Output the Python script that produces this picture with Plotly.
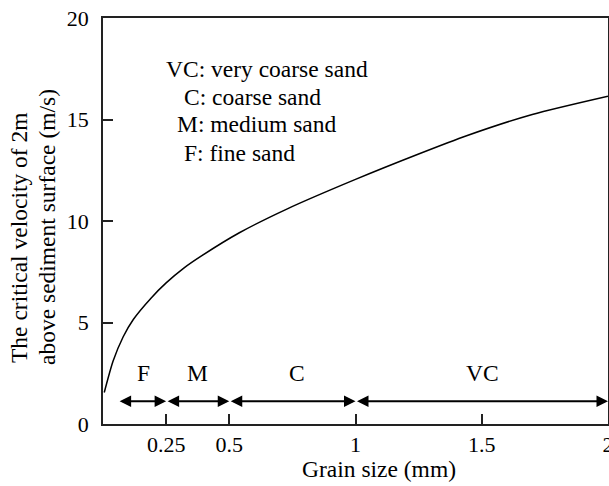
import plotly.graph_objects as go

# Curve
grain_size = [0.005, 0.04, 0.08, 0.12, 0.19, 0.25, 0.32, 0.39, 0.54, 0.73, 1.0, 1.25, 1.44, 1.7, 2.0]
velocity = [1.55, 3.1, 4.3, 5.15, 6.2, 6.95, 7.68, 8.28, 9.42, 10.6, 12.05, 13.3, 14.2, 15.25, 16.15]

# Size classes (arrows along the bottom)
class_labels = ["F", "M", "C", "VC"]
class_start = [0.06, 0.25, 0.5, 1.0]
class_end = [0.25, 0.5, 1.0, 2.0]
class_label_x = [0.16, 0.373, 0.768, 1.503]
arrow_y = 1.12
label_y = 2.5

# Legend text lines
legend_lines = ["VC: very coarse sand", "C: coarse sand", "M: medium sand", "F: fine sand"]
legend_x = [0.241, 0.312, 0.286, 0.312]
legend_y = [17.5, 16.1, 14.78, 13.37]

x_ticks = [0.25, 0.5, 1, 1.5, 2]
x_ticktext = ["0.25", "0.5", "1", "1.5", "2"]
y_ticks = [0, 5, 10, 15, 20]

FONT = "Liberation Serif"
TXT = 23.5
W, H = 609, 486
PL, PR, PT, PB = 103, 608, 18, 424  # plot area in pixels


def px2paper(px, py):
    return (px - PL) / (PR - PL), (PB - py) / (PB - PT)


fig = go.Figure()
fig.add_trace(go.Scatter(x=grain_size, y=velocity, mode="lines",
                         line=dict(color="black", width=1.5, shape="spline", smoothing=0.7),
                         showlegend=False, hoverinfo="skip"))

annotations = []
for s, e in zip(class_start, class_end):
    annotations.append(dict(x=e, y=arrow_y, ax=s, ay=arrow_y, xref="x", yref="y",
                            axref="x", ayref="y", text="", showarrow=True,
                            arrowhead=2, startarrowhead=2, arrowside="end+start",
                            arrowsize=1.15, startarrowsize=1.15, arrowwidth=2,
                            arrowcolor="black", standoff=0, startstandoff=0))
for lab, lx in zip(class_labels, class_label_x):
    annotations.append(dict(x=lx, y=label_y, xref="x", yref="y", text=lab,
                            showarrow=False, font=dict(family=FONT, size=TXT, color="black")))
for t, lx, ly in zip(legend_lines, legend_x, legend_y):
    annotations.append(dict(x=lx, y=ly, xref="x", yref="y", text=t, xanchor="left",
                            yanchor="middle", showarrow=False,
                            font=dict(family=FONT, size=TXT, color="black")))
# axis titles
xt, yt = px2paper(379, 469)
annotations.append(dict(x=xt, y=yt, xref="paper", yref="paper",
                        text="Grain size (mm)", showarrow=False, yanchor="middle",
                        font=dict(family=FONT, size=TXT, color="black")))
for line, cx, cy in [("The critical velocity of 2m", 19, 238),
                     ("above sediment surface (m/s)", 47, 227)]:
    ax_, ay_ = px2paper(cx, cy)
    annotations.append(dict(x=ax_, y=ay_, xref="paper", yref="paper", text=line,
                            textangle=-90, showarrow=False, xanchor="center",
                            yanchor="middle",
                            font=dict(family=FONT, size=TXT, color="black")))

axis_common = dict(showgrid=False, zeroline=False, showline=True, linecolor="#222",
                   linewidth=1.5, mirror=True, ticks="inside", ticklen=10,
                   tickcolor="#222", tickwidth=1.5, ticklabeloverflow="allow",
                   tickfont=dict(family=FONT, size=22, color="black"))

fig.update_layout(
    width=W, height=H,
    margin=dict(l=PL, r=W - PR, t=PT, b=H - PB, autoexpand=False),
    paper_bgcolor="white", plot_bgcolor="white",
    xaxis=dict(range=[0, 2], tickvals=x_ticks, ticktext=x_ticktext, **axis_common),
    yaxis=dict(range=[0, 20], tickvals=y_ticks, ticklabelstandoff=8, **axis_common),
    annotations=annotations,
    font=dict(family=FONT, size=TXT, color="black"),
)
fig.write_html("out.html", config={"displayModeBar": False},
               post_script="document.body.style.margin='0px';document.body.style.overflow='hidden';")
